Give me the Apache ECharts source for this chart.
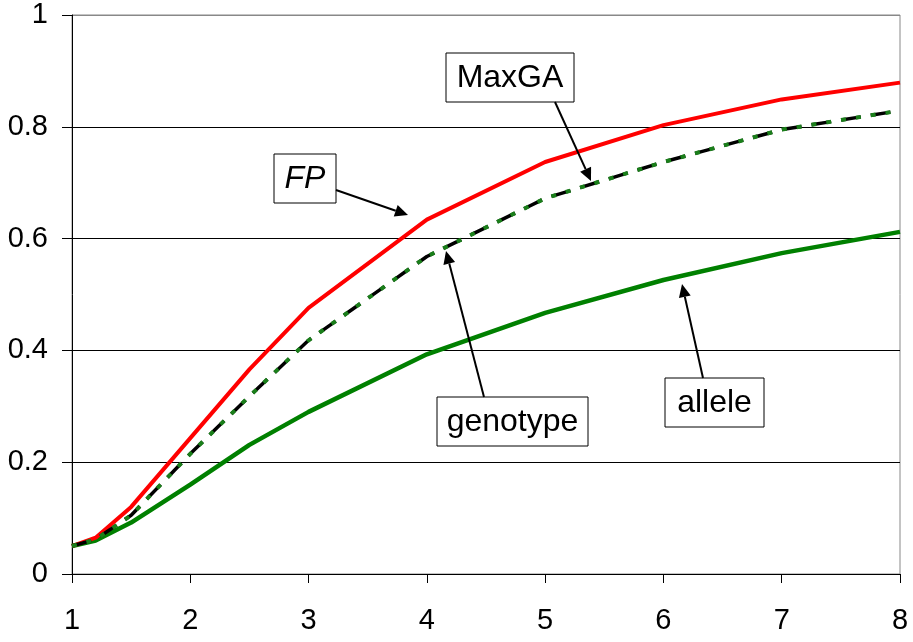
<!DOCTYPE html>
<html>
<head>
<meta charset="utf-8">
<script src="https://cdn.jsdelivr.net/npm/echarts@6/dist/echarts.min.js"></script>
<style>html,body{margin:0;padding:0;background:#fff}#c{width:913px;height:642px}</style>
</head>
<body>
<div id="c"></div>
<script>
var xValues = [1, 1.2, 1.5, 2, 2.5, 3, 4, 5, 6, 7, 8];
var fpValues = [0.05, 0.065, 0.12, 0.243, 0.366, 0.476, 0.634, 0.737, 0.803, 0.849, 0.879];
var maxgaValues = [0.05, 0.062, 0.105, 0.215, 0.318, 0.418, 0.568, 0.672, 0.737, 0.795, 0.829];
var genotypeValues = [0.05, 0.062, 0.105, 0.215, 0.318, 0.418, 0.568, 0.672, 0.737, 0.795, 0.829];
var alleleValues = [0.05, 0.06, 0.092, 0.16, 0.231, 0.29, 0.393, 0.467, 0.526, 0.574, 0.612];
var xTicks = [1, 2, 3, 4, 5, 6, 7, 8];
var yTicks = [0, 0.2, 0.4, 0.6, 0.8, 1];

function pairs(ys) { return xValues.map(function (x, i) { return [x, ys[i]]; }); }

var chart = echarts.init(document.getElementById('c'), null, {renderer: 'canvas'});
var font = 'Arial, "Liberation Sans", sans-serif';

function arrow(x1, y1, x2, y2) {
  var ang = Math.atan2(y2 - y1, x2 - x1);
  var L = 13, W = 6;
  var bx = x2 - L * Math.cos(ang), by = y2 - L * Math.sin(ang);
  var px = -Math.sin(ang) * W, py = Math.cos(ang) * W;
  return [
    {type: 'line', shape: {x1: x1, y1: y1, x2: bx, y2: by}, style: {stroke: '#000', lineWidth: 2}, z: 100},
    {type: 'polygon', shape: {points: [[x2, y2], [bx + px, by + py], [bx - px, by - py]]}, style: {fill: '#000'}, z: 100}
  ];
}
function box(x, y, w, h, text, italic) {
  return [
    {type: 'rect', shape: {x: x, y: y, width: w, height: h}, style: {fill: '#fff', stroke: '#000', lineWidth: 1}, z: 100},
    {type: 'text', x: x + w / 2, y: y + h / 2 + 1, style: {text: text, fill: '#000', font: (italic ? 'italic ' : '') + '32px ' + font, align: 'center', verticalAlign: 'middle'}, z: 101}
  ];
}

var graphics = [].concat(
  box(274, 154, 62, 49, 'FP', true),
  arrow(336, 190, 408, 215),
  box(446, 53, 128, 49, 'MaxGA', false),
  arrow(555, 102, 591, 181),
  box(437, 397, 151, 49, 'genotype', false),
  arrow(484, 397, 446, 251),
  box(665, 378, 99, 49, 'allele', false),
  arrow(703, 378, 682, 284)
);

chart.setOption({
  animation: false,
  backgroundColor: '#fff',
  grid: {left: 72, right: 13, top: 15, bottom: 68, show: true, borderColor: '#888', borderWidth: 1},
  xAxis: {
    type: 'value', min: 1, max: 8, interval: 1,
    axisLine: {lineStyle: {color: '#000', width: 1}},
    axisTick: {show: true, inside: false, length: 9, lineStyle: {color: '#000'}},
    axisLabel: {color: '#000', fontSize: 29, fontFamily: font, margin: 32,
      formatter: function (v) { return xTicks.indexOf(v) >= 0 ? String(v) : ''; }},
    splitLine: {show: false}
  },
  yAxis: {
    type: 'value', min: 0, max: 1, interval: 0.2,
    axisLine: {show: true, lineStyle: {color: '#000', width: 1}},
    axisTick: {show: true, inside: false, length: 10, lineStyle: {color: '#000'}},
    axisLabel: {color: '#000', fontSize: 29, fontFamily: font, margin: 24,
      formatter: function (v) { var r = Math.round(v * 10) / 10; return yTicks.indexOf(r) >= 0 ? String(r) : ''; }},
    splitLine: {show: true, lineStyle: {color: ['#000', '#000', '#000', '#000', '#000', '#888'], width: 1}}
  },
  series: [
    {name: 'allele', type: 'line', data: pairs(alleleValues), showSymbol: false, symbol: 'none',
      lineStyle: {color: '#008000', width: 4.5}, z: 3},
    {name: 'FP', type: 'line', data: pairs(fpValues), showSymbol: false, symbol: 'none',
      lineStyle: {color: '#ff0000', width: 4}, z: 3},
    {name: 'MaxGA', type: 'line', data: pairs(maxgaValues), showSymbol: false, symbol: 'none',
      lineStyle: {color: '#000', width: 3.5, type: [20, 10]}, z: 4},
    {name: 'genotype', type: 'line', data: pairs(genotypeValues), showSymbol: false, symbol: 'none',
      lineStyle: {color: '#1a7f1a', width: 4, type: [5, 10, 5, 10]}, z: 5}
  ],
  graphic: graphics
});
</script>
</body>
</html>
